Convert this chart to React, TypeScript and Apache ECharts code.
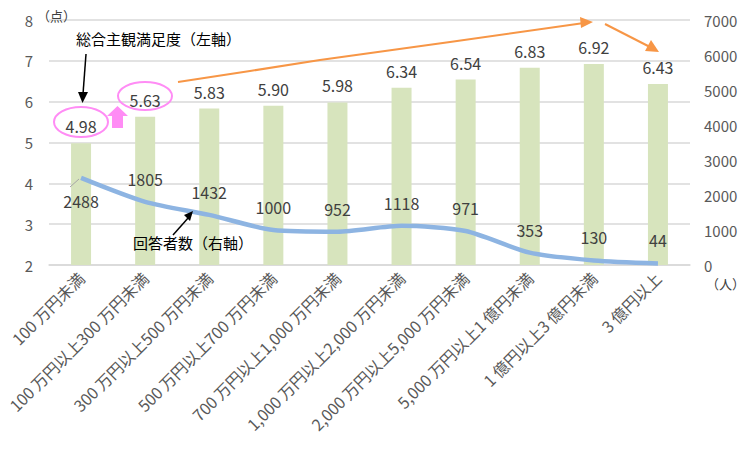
import { useEffect, useRef } from 'react';
import * as echarts from 'echarts';

const categories = [
  '100 万円未満',
  '100 万円以上300 万円未満',
  '300 万円以上500 万円未満',
  '500 万円以上700 万円未満',
  '700 万円以上1,000 万円未満',
  '1,000 万円以上2,000 万円未満',
  '2,000 万円以上5,000 万円未満',
  '5,000 万円以上1 億円未満',
  '1 億円以上3 億円未満',
  '3 億円以上',
];
const satisfaction = [4.98, 5.63, 5.83, 5.9, 5.98, 6.34, 6.54, 6.83, 6.92, 6.43];
const respondents = [2488, 1805, 1432, 1000, 952, 1118, 971, 353, 130, 44];

const FONT = '"Noto Sans CJK JP", "Noto Sans", sans-serif';
const PINK = '#ff8cf5';
const ORANGE = '#f79646';

export default function App() {
  const chartRef = useRef<HTMLDivElement>(null);

  useEffect(() => {
    if (!chartRef.current) return;
    document.body.style.margin = '0';
    const chart = echarts.init(chartRef.current, null, { renderer: 'svg' });

    const g = (el: any) => ({ z: 100, ...el });

    chart.setOption({
      animation: false,
      textStyle: { fontFamily: FONT },
      grid: { left: 49, right: 59, top: 20, bottom: 189 },
      xAxis: {
        type: 'category',
        data: categories,
        axisLine: { lineStyle: { color: '#d9d9d9', width: 1.5 } },
        axisTick: { show: false },
        axisLabel: { rotate: 45, interval: 0, color: '#595959', fontSize: 16, margin: 10 },
      },
      yAxis: [
        {
          type: 'value',
          min: 2,
          max: 8,
          interval: 1,
          axisLabel: { color: '#595959', fontSize: 15, margin: 16 },
          splitLine: { lineStyle: { color: '#d9d9d9', width: 1.5 } },
        },
        {
          type: 'value',
          min: 0,
          max: 7000,
          interval: 1000,
          axisLabel: { color: '#595959', fontSize: 15, margin: 14, formatter: (v: number) => String(v) },
          splitLine: { show: false },
        },
      ],
      series: [
        {
          type: 'bar',
          data: satisfaction,
          barWidth: 20,
          itemStyle: { color: '#d7e4bd' },
          label: {
            show: true,
            position: 'top',
            distance: 9,
            color: '#404040',
            fontSize: 16,
            formatter: (p: any) => p.value.toFixed(2),
          },
        },
        {
          type: 'line',
          yAxisIndex: 1,
          smooth: 0.25,
          symbol: 'circle',
          symbolSize: 2,
          showSymbol: true,
          itemStyle: { color: 'rgba(141,180,226,0)' },
          data: respondents.map((v, i) =>
            i === 0
              ? { value: v, label: { position: 'bottom', offset: [-10, 6] } }
              : v
          ),
          lineStyle: { color: '#8db4e2', width: 4.5 },
          label: {
            show: true,
            position: 'top',
            distance: 14,
            color: '#404040',
            fontSize: 16,
          },
          labelLayout: { hideOverlap: false },
          z: 3,
        },
      ],
      graphic: [
        g({ type: 'text', left: 37, top: 9, style: { text: '（点）', font: `13px ${FONT}`, fill: '#404040' } }),
        g({ type: 'text', left: 706, top: 277, style: { text: '（人）', font: `13px ${FONT}`, fill: '#404040' } }),
        g({ type: 'text', left: 76, top: 31, style: { text: '総合主観満足度（左軸）', font: `15px ${FONT}`, fill: '#000' } }),
        g({ type: 'line', shape: { x1: 86, y1: 54, x2: 83, y2: 94 }, style: { stroke: '#000', lineWidth: 1.5 } }),
        g({ type: 'polygon', shape: { points: [[78, 92], [88, 92], [82.5, 103]] }, style: { fill: '#000' } }),
        g({ type: 'ellipse', shape: { cx: 81, cy: 122, rx: 27, ry: 15 }, style: { stroke: PINK, lineWidth: 2, fill: 'none' } }),
        g({ type: 'ellipse', shape: { cx: 145, cy: 96, rx: 27, ry: 14 }, style: { stroke: PINK, lineWidth: 2, fill: 'none' } }),
        g({
          type: 'polygon',
          shape: { points: [[117.5, 106], [128, 116], [123, 116], [123, 128], [112, 128], [112, 116], [107, 116]] },
          style: { fill: PINK },
        }),
        g({
          type: 'polyline',
          shape: { points: [[178, 82], [250, 71], [320, 60], [450, 42], [584, 23]] },
          style: { stroke: ORANGE, lineWidth: 2, fill: 'none' },
        }),
        g({ type: 'polygon', shape: { points: [[580, 17], [593, 22], [581, 28]] }, style: { fill: ORANGE } }),
        g({ type: 'line', shape: { x1: 605, y1: 24, x2: 650, y2: 47 }, style: { stroke: ORANGE, lineWidth: 2 } }),
        g({ type: 'polygon', shape: { points: [[651, 40], [659, 52], [645, 51]] }, style: { fill: ORANGE } }),
        g({ type: 'text', left: 133, top: 235, style: { text: '回答者数（右軸）', font: `15px ${FONT}`, fill: '#000' } }),
        g({ type: 'line', shape: { x1: 173, y1: 235, x2: 189, y2: 217 }, style: { stroke: '#000', lineWidth: 1.5 } }),
        g({ type: 'polygon', shape: { points: [[184, 215], [193, 211], [190, 221]] }, style: { fill: '#000' } }),
        g({ type: 'line', shape: { x1: 70, y1: 187, x2: 79, y2: 179 }, style: { stroke: '#a6a6a6', lineWidth: 1 } }),
      ],
    });

    return () => chart.dispose();
  }, []);

  return <div ref={chartRef} style={{ width: 749, height: 454 }} />;
}
